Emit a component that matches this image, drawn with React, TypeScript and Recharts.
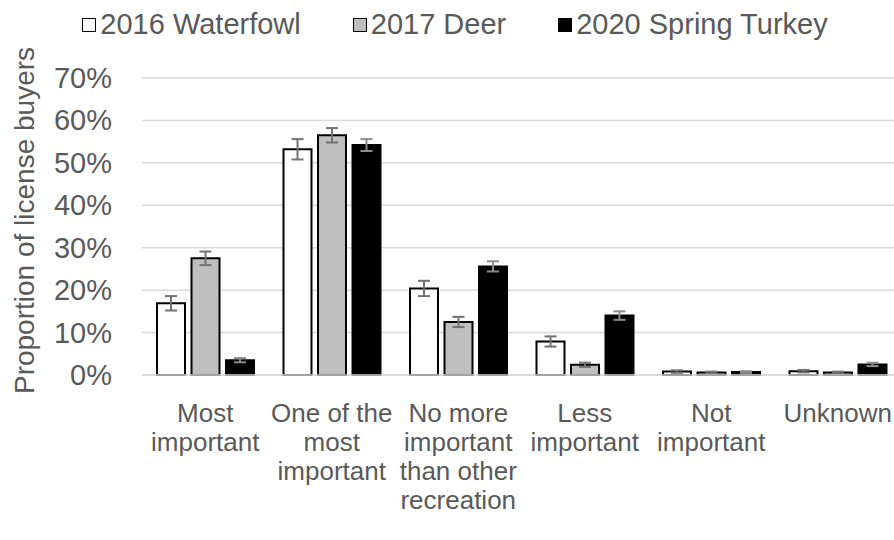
import React from "react";
import { BarChart, Bar, XAxis, YAxis, CartesianGrid, ErrorBar, Legend } from "recharts";

const categories = [
  "Most important",
  "One of the most important",
  "No more important than other recreation",
  "Less important",
  "Not important",
  "Unknown",
];
const categoryLines = [
  ["Most", "important"],
  ["One of the", "most", "important"],
  ["No more", "important", "than other", "recreation"],
  ["Less", "important"],
  ["Not", "important"],
  ["Unknown"],
];
const seriesNames = ["2016 Waterfowl", "2017 Deer", "2020 Spring Turkey"];
const waterfowl = [16.9, 53.2, 20.4, 7.9, 0.8, 0.9];
const deer = [27.5, 56.5, 12.5, 2.4, 0.6, 0.6];
const turkey = [3.5, 54.2, 25.6, 14.0, 0.7, 2.5];
const waterfowlErr = [1.7, 2.4, 1.8, 1.2, 0.3, 0.3];
const deerErr = [1.6, 1.7, 1.2, 0.5, 0.2, 0.2];
const turkeyErr = [0.5, 1.4, 1.2, 1.0, 0.2, 0.4];
const yTicks = [0, 10, 20, 30, 40, 50, 60, 70];

const fills = ["#ffffff", "#bfbfbf", "#000000"];
const TEXT = "#595959";
const FONT = "'Liberation Sans', Arial, sans-serif";

const data = categories.map((c, i) => ({
  name: c,
  w: waterfowl[i],
  d: deer[i],
  t: turkey[i],
  we: waterfowlErr[i],
  de: deerErr[i],
  te: turkeyErr[i],
}));

const XTick = (props: any) => {
  const { x, y, payload } = props;
  const lines = categoryLines[payload.index] || [payload.value];
  return (
    <text x={x} y={y} textAnchor="middle" fill={TEXT} fontSize={26} fontFamily={FONT}>
      {lines.map((l: string, k: number) => (
        <tspan key={k} x={x} dy={k === 0 ? 39 : 29}>
          {l}
        </tspan>
      ))}
    </text>
  );
};

const YTick = (props: any) => {
  const { x, y, payload } = props;
  return (
    <text x={x} y={y} dy={10} textAnchor="end" fill={TEXT} fontSize={29} fontFamily={FONT}>
      {payload.value}%
    </text>
  );
};

const YLabel = (props: any) => {
  const { viewBox } = props;
  const cx = viewBox.x + 24;
  const cy = viewBox.y + viewBox.height / 2 - 6;
  return (
    <text
      x={cx}
      y={cy}
      transform={`rotate(-90, ${cx}, ${cy})`}
      textAnchor="middle"
      dominantBaseline="central"
      fill={TEXT}
      fontSize={28}
      fontFamily={FONT}
    >
      Proportion of license buyers
    </text>
  );
};

const LegendContent = () => (
  <div
    style={{
      display: "flex",
      justifyContent: "center",
      gap: 52,
      fontFamily: FONT,
      fontSize: 29,
      color: TEXT,
      lineHeight: "40px",
      height: 40,
    }}
  >
    {seriesNames.map((n, i) => (
      <div key={n} style={{ display: "flex", alignItems: "center" }}>
        <span
          style={{
            display: "inline-block",
            width: 12,
            height: 12,
            background: fills[i],
            border: "1.5px solid #000",
            marginRight: 4,
            marginTop: 2,
          }}
        />
        <span>{n}</span>
      </div>
    ))}
  </div>
);

export default function App() {
  return (
    <div style={{ position: "absolute", top: 0, left: 0, width: 894, height: 540, overflow: "hidden", background: "#fff" }}>
      <BarChart
        width={910}
        height={540}
        data={data}
        margin={{ top: 38, right: 9, bottom: 0, left: 0 }}
        barSize={28}
        barGap={6.5}
      >
        <CartesianGrid vertical={false} stroke="#d9d9d9" strokeWidth={1.5} />
        <XAxis
          dataKey="name"
          height={165}
          interval={0}
          tickLine={false}
          axisLine={{ stroke: "#d9d9d9", strokeWidth: 1.5 }}
          tick={<XTick />}
        />
        <YAxis
          width={142}
          domain={[0, 70]}
          ticks={yTicks}
          interval={0}
          tickLine={false}
          axisLine={false}
          tickMargin={24}
          tick={<YTick />}
          label={<YLabel />}
        />
        <Legend
          verticalAlign="top"
          align="center"
          content={<LegendContent />}
          wrapperStyle={{ top: 4, left: 0, width: 910, height: 40 }}
        />
        <Bar dataKey="w" name={seriesNames[0]} fill={fills[0]} stroke="#000" strokeWidth={2} isAnimationActive={false}>
          <ErrorBar dataKey="we" width={6} stroke="#737373" strokeWidth={2} />
        </Bar>
        <Bar dataKey="d" name={seriesNames[1]} fill={fills[1]} stroke="#000" strokeWidth={2} isAnimationActive={false}>
          <ErrorBar dataKey="de" width={6} stroke="#737373" strokeWidth={2} />
        </Bar>
        <Bar dataKey="t" name={seriesNames[2]} fill={fills[2]} stroke="#000" strokeWidth={2} isAnimationActive={false}>
          <ErrorBar dataKey="te" width={6} stroke="#8c8c8c" strokeWidth={2} />
        </Bar>
      </BarChart>
    </div>
  );
}
